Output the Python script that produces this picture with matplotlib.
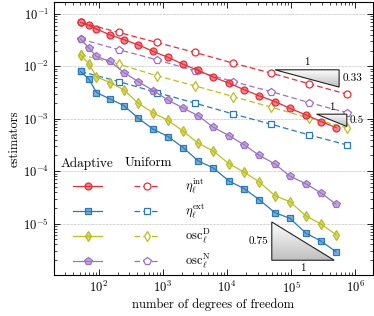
import numpy as np
import matplotlib
matplotlib.use("Agg")
import matplotlib.pyplot as plt
from matplotlib.lines import Line2D
from matplotlib.patches import Polygon
from matplotlib.colors import to_rgba

plt.rcParams["font.family"] = "serif"
plt.rcParams["font.serif"] = ["cmr10", "DejaVu Serif"]
plt.rcParams["mathtext.fontset"] = "cm"
plt.rcParams["axes.formatter.use_mathtext"] = True

# degrees of freedom
dofs_adaptive = [52, 70, 92, 151, 246, 411, 705, 1211, 2075, 3565, 6110, 10750,
                 18620, 32000, 56230, 96400, 169800, 294300, 504700]
dofs_uniform = [52, 205, 806, 3160, 12400, 48700, 191000, 750000]

# adaptive refinement
eta_int_adaptive = [0.0690, 0.0605, 0.0516, 0.0397, 0.0323, 0.0259, 0.0193, 0.0148,
                    0.01097, 0.00835, 0.00624, 0.00480, 0.00357, 0.00274, 0.00213,
                    0.00158, 0.00119, 0.000885, 0.000679]
eta_ext_adaptive = [0.00799, 0.00572, 0.00317, 0.00237, 0.00179, 0.00103, 0.000633,
                    0.000457, 0.000281, 0.000157, 0.000115, 6.50e-5, 4.63e-5, 2.85e-5,
                    1.61e-5, 1.26e-5, 6.58e-6, 4.63e-6, 2.89e-6]
osc_d_adaptive = [0.01667, 0.01122, 0.00624, 0.00492, 0.00357, 0.00199, 0.00130,
                  0.000931, 0.000579, 0.000341, 0.000243, 0.000139, 9.57e-5, 6.22e-5,
                  3.40e-5, 2.61e-5, 1.41e-5, 9.78e-6, 6.11e-6]
osc_n_adaptive = [0.0333, 0.0224, 0.01546, 0.01241, 0.00764, 0.00514, 0.00346, 0.00227,
                  0.00160, 0.00114, 0.000691, 0.000478, 0.000317, 0.000200, 0.000137,
                  8.02e-5, 5.77e-5, 3.83e-5, 2.34e-5]

# uniform refinement
eta_int_uniform = [0.0690, 0.0445, 0.0286, 0.01845, 0.01156, 0.00745, 0.00465, 0.00295]
eta_ext_uniform = [0.00799, 0.00514, 0.00317, 0.00199, 0.00124, 0.000789, 0.000492, 0.000317]
osc_d_uniform = [0.01667, 0.01107, 0.00661, 0.00426, 0.00266, 0.00167, 0.00103, 0.000670]
osc_n_uniform = [0.0333, 0.0208, 0.01337, 0.00824, 0.00514, 0.00331, 0.00204, 0.00130]

labels = [r"$\eta_\ell^{\mathrm{int}}$", r"$\eta_\ell^{\mathrm{ext}}$",
          r"$\mathrm{osc}_\ell^{\mathrm{D}}$", r"$\mathrm{osc}_\ell^{\mathrm{N}}$"]

# slope triangles: (x_start, x_end, y_anchor, slope)
tri_x0 = [56000, 251000, 50000]
tri_x1 = [562000, 741000, 471000]
tri_y0 = [0.00861, 0.001225, 2.0e-6]
tri_slope = [0.33, 0.5, 0.75]
tri_slope_text = ["0.33", "0.5", "0.75"]

colors = ["#e3303a", "#2a7ab9", "#bcbd22", "#9b72c6"]
markers = ["o", "s", "d", "p"]
msizes = [5.0, 4.8, 5.2, 5.8]

fig = plt.figure(figsize=(3.74, 3.16), dpi=100)
ax = fig.add_axes([0.1444, 0.130, 0.853, 0.864])

adaptive = [eta_int_adaptive, eta_ext_adaptive, osc_d_adaptive, osc_n_adaptive]
uniform = [eta_int_uniform, eta_ext_uniform, osc_d_uniform, osc_n_uniform]

for ys, c, m, ms in zip(uniform, colors, markers, msizes):
    ax.plot(dofs_uniform, ys, ls=(0, (4.5, 2.5)), lw=0.9, color=c, marker=m, ms=ms,
            mfc="white", mec=c, mew=0.9, zorder=3)
for ys, c, m, ms in zip(adaptive, colors, markers, msizes):
    ax.plot(dofs_adaptive, ys, ls="-", lw=0.9, color=c, marker=m, ms=ms,
            mfc=to_rgba(c, 0.6), mec=c, mew=0.9, zorder=4)

ax.set_xscale("log")
ax.set_yscale("log")
ax.set_xlim(20, 1.9e6)
ax.set_ylim(1.05e-6, 0.17)

ax.grid(True, axis="y", which="major", ls=(0, (1, 1)), lw=0.5, color="#aaaaaa")
ax.tick_params(which="both", direction="in", top=True, right=True, labelsize=9)
ax.tick_params(which="major", length=4, width=0.6)
ax.tick_params(which="minor", length=2, width=0.5)
for sp in ax.spines.values():
    sp.set_linewidth(0.8)

ax.set_xlabel("number of degrees of freedom", fontsize=9, labelpad=2)
ax.set_ylabel("estimators", fontsize=9, labelpad=2)

# slope triangles with vertical grey gradient
to_axes = ax.transData + ax.transAxes.inverted()
grad = np.linspace(1.0, 0.75, 64).reshape(-1, 1)
for i in range(3):
    x0, x1, y0, s = tri_x0[i], tri_x1[i], tri_y0[i], tri_slope[i]
    if i < 2:
        y1 = y0 * (x1 / x0) ** (-s)
        pts = [(x0, y0), (x1, y0), (x1, y1)]
    else:
        y1 = y0 * (x1 / x0) ** s
        pts = [(x0, y1), (x0, y0), (x1, y0)]
    pts_ax = to_axes.transform(pts)
    poly = Polygon(pts_ax, closed=True, transform=ax.transAxes, fc="none",
                   ec="#222222", lw=0.8, zorder=6)
    ax.add_patch(poly)
    xa0, ya0 = pts_ax.min(axis=0)
    xa1, ya1 = pts_ax.max(axis=0)
    im = ax.imshow(grad, cmap="gray", vmin=0, vmax=1, aspect="auto",
                   extent=[xa0, xa1, ya0, ya1], origin="upper",
                   transform=ax.transAxes, zorder=5, interpolation="bilinear")
    im.set_clip_path(poly)
    xm = np.sqrt(x0 * x1)
    if i < 2:
        ax.text(xm, y0 * 1.12, "1", ha="center", va="bottom", fontsize=8, zorder=7)
        ax.text(x1 * 1.12, np.sqrt(y0 * y1), tri_slope_text[i], ha="left",
                va="center", fontsize=8, zorder=7)
    else:
        ax.text(xm, y0 / 1.15, "1", ha="center", va="top", fontsize=8, zorder=7)
        ax.text(x0 / 1.12, np.sqrt(y0 * y1), tri_slope_text[i], ha="right",
                va="center", fontsize=8, zorder=7)

# hand-made legend with two sample columns
ax.text(0.103, 0.409, "Adaptive", transform=ax.transAxes, ha="center", va="center",
        fontsize=9.5)
ax.text(0.295, 0.409, "Uniform", transform=ax.transAxes, ha="center", va="center",
        fontsize=9.5)
rows = [0.326, 0.2344, 0.1429, 0.0513]
for yr, c, m, ms, lab in zip(rows, colors, markers, msizes, labels):
    ax.add_line(Line2D([0.0596, 0.150], [yr, yr], transform=ax.transAxes, color=c,
                       lw=0.9, zorder=6))
    ax.add_line(Line2D([0.105], [yr], transform=ax.transAxes, color=c, marker=m,
                       ms=ms, mfc=to_rgba(c, 0.6), mec=c, mew=0.9, zorder=7))
    ax.add_line(Line2D([0.251, 0.332], [yr, yr], transform=ax.transAxes, color=c,
                       lw=0.9, ls=(0, (4.5, 2.5)), zorder=6))
    ax.add_line(Line2D([0.2915], [yr], transform=ax.transAxes, color=c, marker=m,
                       ms=ms, mfc="white", mec=c, mew=0.9, zorder=7))
    ax.text(0.411, yr, lab, transform=ax.transAxes, ha="left", va="center", fontsize=9)

fig.savefig("out.png", dpi=100)
